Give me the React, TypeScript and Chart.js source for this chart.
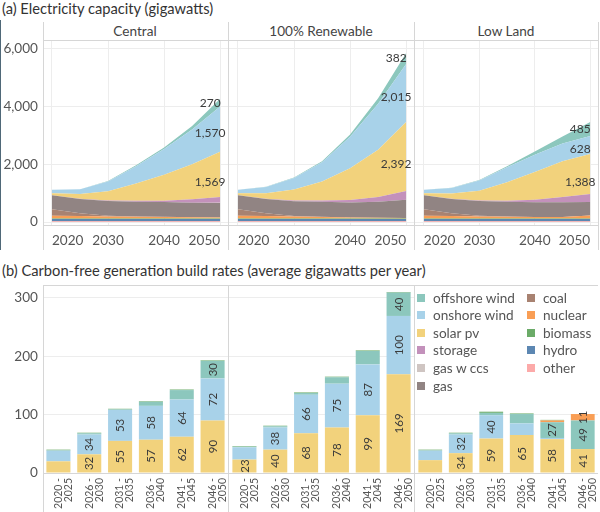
import React, { useEffect, useRef } from "react";
import { Chart, registerables } from "chart.js";

Chart.register(...registerables);

const FONT = "Lato, 'Noto Sans', sans-serif";

// ---------- shared categories ----------
const YEARS = [2020, 2025, 2030, 2035, 2040, 2045, 2050];
const YEAR_TICKS = [2020, 2030, 2040, 2050];
const CAP_TICKS = [0, 2000, 4000, 6000];
const RATE_TICKS = [0, 100, 200, 300];
const SCENARIOS = ["Central", "100% Renewable", "Low Land"];
const PERIODS = [
  ["2020 -", "2025"],
  ["2026 -", "2030"],
  ["2031 -", "2035"],
  ["2036 -", "2040"],
  ["2041 -", "2045"],
  ["2046 -", "2050"],
];

// legend order (column-major)
const TECHS = [
  "offshore wind", "onshore wind", "solar pv", "storage", "gas w ccs", "gas",
  "coal", "nuclear", "biomass", "hydro", "other",
];
const TECH_COLORS = [
  "#8cc7bd", "#a8d2e9", "#f2d27c", "#c391bb", "#cfc5c2", "#918483",
  "#a88271", "#f99e55", "#6bab68", "#5c87b2", "#fcaaa9",
];

// ---------- (a) capacity, GW ----------
// Central
const centralOther = [25, 25, 25, 25, 25, 25, 25];
const centralHydro = [80, 80, 80, 80, 80, 80, 80];
const centralBiomass = [15, 15, 15, 15, 15, 15, 15];
const centralNuclear = [95, 90, 75, 65, 55, 45, 35];
const centralCoal = [230, 90, 20, 10, 5, 0, 0];
const centralGas = [480, 500, 510, 510, 510, 500, 500];
const centralGasCcs = [0, 0, 0, 0, 0, 5, 10];
const centralStorage = [5, 10, 20, 30, 50, 120, 200];
const centralSolar = [70, 160, 320, 600, 900, 1210, 1569];
const centralOnshore = [120, 165, 340, 600, 890, 1210, 1570];
const centralOffshore = [0, 5, 15, 30, 50, 120, 270];
// 100% Renewable
const renewOther = [25, 25, 25, 25, 25, 25, 25];
const renewHydro = [80, 80, 80, 80, 80, 80, 80];
const renewBiomass = [15, 15, 15, 15, 15, 15, 15];
const renewNuclear = [95, 90, 70, 55, 40, 25, 15];
const renewCoal = [230, 90, 20, 5, 0, 0, 0];
const renewGas = [480, 500, 510, 520, 520, 560, 640];
const renewGasCcs = [0, 0, 0, 0, 0, 0, 0];
const renewStorage = [5, 10, 25, 45, 85, 160, 300];
const renewSolar = [70, 185, 380, 660, 1100, 1640, 2392];
const renewOnshore = [120, 220, 405, 670, 1090, 1600, 2015];
const renewOffshore = [0, 5, 15, 30, 80, 190, 382];
// Low Land
const lowOther = [25, 25, 25, 25, 25, 25, 25];
const lowHydro = [80, 80, 80, 80, 80, 80, 80];
const lowBiomass = [15, 15, 15, 15, 15, 15, 15];
const lowNuclear = [95, 90, 75, 60, 50, 55, 105];
const lowCoal = [230, 90, 20, 10, 5, 0, 0];
const lowGas = [480, 500, 510, 510, 510, 510, 470];
const lowGasCcs = [0, 0, 0, 0, 0, 0, 0];
const lowStorage = [5, 10, 20, 40, 90, 180, 275];
const lowSolar = [70, 175, 340, 640, 960, 1240, 1388];
const lowOnshore = [120, 195, 355, 520, 600, 620, 628];
const lowOffshore = [0, 5, 15, 35, 110, 240, 485];

// ---------- (b) build rates, GW / year ----------
const centralRateSolar = [20, 32, 55, 57, 62, 90];
const centralRateOnshore = [18, 34, 53, 58, 64, 72];
const centralRateOffshore = [1, 2, 1, 7, 16, 30];
const centralRateNuclear = [0, 0, 0, 0, 0, 0];
const centralRateBiomass = [1, 1, 1, 1, 1, 1];

const renewRateSolar = [23, 40, 68, 78, 99, 169];
const renewRateOnshore = [21, 38, 66, 75, 87, 100];
const renewRateOffshore = [1, 2, 3, 11, 23, 40];
const renewRateNuclear = [0, 0, 0, 0, 0, 0];
const renewRateBiomass = [1, 1, 1, 1, 1, 1];

const lowRateSolar = [22, 34, 59, 65, 58, 41];
const lowRateOnshore = [16, 32, 40, 20, 2, 0];
const lowRateOffshore = [1, 2, 4, 16, 27, 49];
const lowRateNuclear = [0, 0, 0, 0, 3, 11];
const lowRateBiomass = [1, 1, 2, 1, 1, 0];

// area stacks, bottom -> top, as [tech name, values]
const AREA_STACKS: [string, number[]][][] = [
  [
    ["other", centralOther], ["hydro", centralHydro], ["biomass", centralBiomass],
    ["nuclear", centralNuclear], ["coal", centralCoal], ["gas", centralGas],
    ["gas w ccs", centralGasCcs], ["storage", centralStorage], ["solar pv", centralSolar],
    ["onshore wind", centralOnshore], ["offshore wind", centralOffshore],
  ],
  [
    ["other", renewOther], ["hydro", renewHydro], ["biomass", renewBiomass],
    ["nuclear", renewNuclear], ["coal", renewCoal], ["gas", renewGas],
    ["gas w ccs", renewGasCcs], ["storage", renewStorage], ["solar pv", renewSolar],
    ["onshore wind", renewOnshore], ["offshore wind", renewOffshore],
  ],
  [
    ["other", lowOther], ["hydro", lowHydro], ["biomass", lowBiomass],
    ["nuclear", lowNuclear], ["coal", lowCoal], ["gas", lowGas],
    ["gas w ccs", lowGasCcs], ["storage", lowStorage], ["solar pv", lowSolar],
    ["onshore wind", lowOnshore], ["offshore wind", lowOffshore],
  ],
];

const BAR_STACKS: [string, number[]][][] = [
  [
    ["solar pv", centralRateSolar], ["onshore wind", centralRateOnshore],
    ["offshore wind", centralRateOffshore], ["nuclear", centralRateNuclear],
    ["biomass", centralRateBiomass],
  ],
  [
    ["solar pv", renewRateSolar], ["onshore wind", renewRateOnshore],
    ["offshore wind", renewRateOffshore], ["nuclear", renewRateNuclear],
    ["biomass", renewRateBiomass],
  ],
  [
    ["solar pv", lowRateSolar], ["onshore wind", lowRateOnshore],
    ["offshore wind", lowRateOffshore], ["nuclear", lowRateNuclear],
    ["biomass", lowRateBiomass],
  ],
];

const colorOf = (tech: string) => TECH_COLORS[TECHS.indexOf(tech)];
const AREA_LABELED: Record<string, number> = { "offshore wind": 0, "onshore wind": 4, "solar pv": 8 };
const BAR_LABEL_MIN: Record<string, number> = {
  "solar pv": 23, "onshore wind": 23, "offshore wind": 25, nuclear: 10, biomass: 1e9,
};

const GRID = "#ededed";
const TICK_COLOR = "#555";

const areaLabelPlugin = {
  id: "areaLabels",
  afterDatasetsDraw(chart: any) {
    const ctx = chart.ctx;
    chart.data.datasets.forEach((ds: any, i: number) => {
      const shift = AREA_LABELED[ds.label];
      if (shift === undefined || i === 0) return;
      const meta = chart.getDatasetMeta(i);
      const below = chart.getDatasetMeta(i - 1);
      const n = meta.data.length - 1;
      const top = meta.data[n];
      const bot = below.data[n];
      const y = (top.y + bot.y) / 2 + shift;
      ctx.save();
      ctx.font = `12px ${FONT}`;
      ctx.fillStyle = "#3a3a3a";
      ctx.textAlign = "center";
      ctx.textBaseline = "middle";
      ctx.fillText(ds.data[n].y.toLocaleString("en-US"), top.x - 10, y);
      ctx.restore();
    });
  },
};

const barLabelPlugin = {
  id: "barLabels",
  afterDatasetsDraw(chart: any) {
    const ctx = chart.ctx;
    chart.data.datasets.forEach((ds: any, i: number) => {
      const min = BAR_LABEL_MIN[ds.label];
      const meta = chart.getDatasetMeta(i);
      meta.data.forEach((bar: any, j: number) => {
        const v = ds.data[j];
        if (v < min) return;
        const p = bar.getProps(["x", "y", "base"], true);
        ctx.save();
        ctx.translate(p.x, (p.y + p.base) / 2);
        ctx.rotate(-Math.PI / 2);
        ctx.font = `11.5px ${FONT}`;
        ctx.fillStyle = "#3a3a3a";
        ctx.textAlign = "center";
        ctx.textBaseline = "middle";
        ctx.fillText(String(v), 0, 0.5);
        ctx.restore();
      });
    });
  },
};

const fitY = (showY: boolean) => (s: any) => {
  s.width = showY ? 43 : 0;
  s.paddingTop = 0;
  s.paddingBottom = 0;
};
const fitX = (h: number) => (s: any) => {
  s.height = h;
  s.paddingLeft = 0;
  s.paddingRight = 0;
};

function areaConfig(idx: number, showY: boolean): any {
  const stack = AREA_STACKS[idx];
  return {
    type: "line",
    data: {
      datasets: stack.map(([tech, vals], i) => ({
        label: tech,
        data: YEARS.map((yr, j) => ({ x: yr, y: vals[j] })),
        backgroundColor: colorOf(tech),
        borderColor: colorOf(tech),
        borderWidth: 0,
        pointRadius: 0,
        fill: i === 0 ? "origin" : "-1",
        tension: 0,
      })),
    },
    options: {
      animation: false,
      responsive: false,
      maintainAspectRatio: false,
      layout: { padding: 0, autoPadding: false },
      plugins: { legend: { display: false }, tooltip: { enabled: false } },
      scales: {
        x: {
          type: "linear",
          min: 2018.4,
          max: 2051.4,
          afterBuildTicks: (s: any) => {
            s.ticks = YEAR_TICKS.map((v) => ({ value: v }));
          },
          afterFit: fitX(27),
          grid: { color: GRID, drawTicks: false },
          border: { display: false },
          ticks: {
            align: "inner",
            autoSkip: false,
            maxRotation: 0,
            padding: 7,
            color: TICK_COLOR,
            font: { family: FONT, size: 13.6 },
            callback: (v: any) => String(v),
          },
        },
        y: {
          stacked: true,
          min: -104,
          max: 6312,
          afterBuildTicks: (s: any) => {
            s.ticks = CAP_TICKS.map((v) => ({ value: v }));
          },
          afterFit: fitY(showY),
          grid: { color: GRID, drawTicks: false },
          border: { display: false },
          ticks: {
            display: showY,
            padding: 5,
            color: TICK_COLOR,
            font: { family: FONT, size: 13.6 },
            callback: (v: any) => Number(v).toLocaleString("en-US"),
          },
        },
      },
    },
    plugins: [areaLabelPlugin],
  };
}

function barConfig(idx: number, showY: boolean): any {
  const stack = BAR_STACKS[idx];
  return {
    type: "bar",
    data: {
      labels: PERIODS,
      datasets: stack.map(([tech, vals]) => ({
        label: tech,
        data: vals,
        backgroundColor: colorOf(tech),
        borderWidth: 0,
        barPercentage: 0.78,
        categoryPercentage: 1,
      })),
    },
    options: {
      animation: false,
      responsive: false,
      maintainAspectRatio: false,
      layout: { padding: 0, autoPadding: false },
      plugins: { legend: { display: false }, tooltip: { enabled: false } },
      scales: {
        x: {
          stacked: true,
          afterFit: fitX(39),
          grid: { display: false, drawTicks: false },
          border: { display: false },
          ticks: {
            autoSkip: false,
            minRotation: 90,
            maxRotation: 90,
            padding: 5,
            labelOffset: 0,
            color: TICK_COLOR,
            font: { family: FONT, size: 10.5, lineHeight: "10px" },
          },
        },
        y: {
          stacked: true,
          min: 0,
          max: 322,
          afterBuildTicks: (s: any) => {
            s.ticks = RATE_TICKS.map((v) => ({ value: v }));
          },
          afterFit: fitY(showY),
          grid: { color: GRID, drawTicks: false },
          border: { display: false },
          ticks: {
            display: showY,
            padding: 5,
            color: TICK_COLOR,
            font: { family: FONT, size: 13.6 },
          },
        },
      },
    },
    plugins: [barLabelPlugin],
  };
}

function ChartBox(props: { left: number; top: number; width: number; height: number; make: () => any }) {
  const ref = useRef<HTMLCanvasElement>(null);
  useEffect(() => {
    const chart = new Chart(ref.current as HTMLCanvasElement, props.make());
    return () => chart.destroy();
  }, []);
  return (
    <canvas
      ref={ref}
      width={props.width}
      height={props.height}
      style={{ position: "absolute", left: props.left, top: props.top, width: props.width, height: props.height }}
    />
  );
}

const LINE = "#d6d6d6";
function HLine({ x1, x2, y }: { x1: number; x2: number; y: number }) {
  return <div style={{ position: "absolute", left: x1, top: y, width: x2 - x1, height: 1, background: LINE }} />;
}
function VLine({ x, y1, y2 }: { x: number; y1: number; y2: number }) {
  return <div style={{ position: "absolute", left: x, top: y1, width: 1, height: y2 - y1, background: LINE }} />;
}

// panel geometry (page pixels)
const PANEL_LEFT = [0, 229, 415];
const PANEL_WIDTH = [228, 185, 183];
const HEADER_CENTER = [135, 321, 506];

export default function App() {
  const legendCol1 = TECHS.slice(0, 6);
  const legendCol2 = TECHS.slice(6);
  return (
    <div
      style={{
        position: "absolute",
        left: 0,
        top: 0,
        width: 600,
        height: 512,
        background: "#fff",
        overflow: "hidden",
        fontFamily: FONT,
        color: "#333",
      }}
    >
      <div style={{ position: "absolute", left: 0, top: 20, width: 1, height: 230, background: "#4f6878" }} />
      <div style={{ position: "absolute", left: 2, top: 0, fontSize: 14.7, lineHeight: "16px", whiteSpace: "nowrap" }}>
        (a) Electricity capacity (gigawatts)
      </div>
      <div style={{ position: "absolute", left: 2, top: 262, fontSize: 14.7, lineHeight: "16px", whiteSpace: "nowrap" }}>
        (b) Carbon-free generation build rates (average gigawatts per year)
      </div>

      {SCENARIOS.map((s, i) => (
        <div
          key={s}
          style={{
            position: "absolute",
            left: HEADER_CENTER[i] - 60,
            width: 120,
            top: 23,
            textAlign: "center",
            fontSize: 13.6,
            lineHeight: "16px",
            color: "#444",
          }}
        >
          {s}
        </div>
      ))}

      {[0, 1, 2].map((i) => (
        <ChartBox
          key={"a" + i}
          left={PANEL_LEFT[i]}
          top={40}
          width={PANEL_WIDTH[i]}
          height={212}
          make={() => areaConfig(i, i === 0)}
        />
      ))}
      {[0, 1, 2].map((i) => (
        <ChartBox
          key={"b" + i}
          left={PANEL_LEFT[i]}
          top={285}
          width={PANEL_WIDTH[i]}
          height={227}
          make={() => barConfig(i, i === 0)}
        />
      ))}

      {/* frame lines, top */}
      <VLine x={43} y1={22} y2={250} />
      <VLine x={228} y1={22} y2={250} />
      <VLine x={414} y1={22} y2={250} />
      <VLine x={598} y1={22} y2={250} />
      <HLine x1={43} x2={598} y={40} />
      <HLine x1={43} x2={598} y={225} />
      {/* frame lines, bottom */}
      <HLine x1={43} x2={598} y={285} />
      <HLine x1={43} x2={598} y={473} />
      <VLine x={43} y1={285} y2={512} />
      <VLine x={228} y1={285} y2={512} />
      <VLine x={414} y1={285} y2={512} />

      {/* legend */}
      <div style={{ position: "absolute", left: 415, top: 286, width: 183, height: 107, background: "#fff" }}>
        {[legendCol1, legendCol2].map((col, c) =>
          col.map((t, r) => (
            <div
              key={t}
              style={{
                position: "absolute",
                left: c === 0 ? 2 : 112,
                top: 3 + r * 17.6,
                height: 17,
                display: "flex",
                alignItems: "center",
                whiteSpace: "nowrap",
                fontSize: 13.6,
                color: "#555",
              }}
            >
              <span style={{ display: "inline-block", width: 8, height: 8, background: colorOf(t), marginRight: 8 }} />
              {t}
            </div>
          ))
        )}
      </div>
    </div>
  );
}
